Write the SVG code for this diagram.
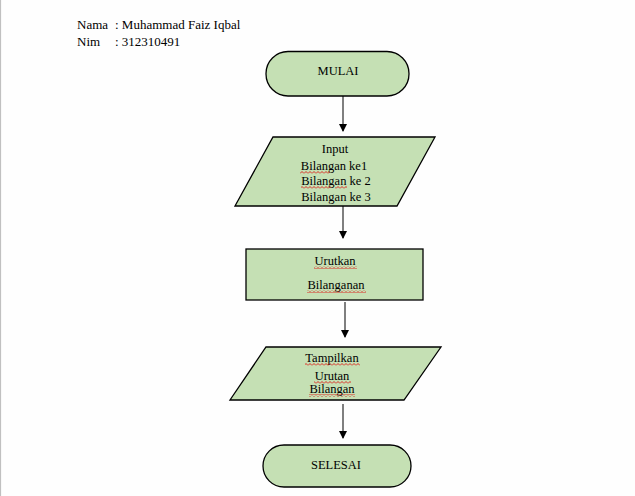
<svg xmlns="http://www.w3.org/2000/svg" width="635" height="496" viewBox="0 0 635 496">
<defs>
<style>
.shape{fill:#C5E0B4;stroke:#000;stroke-width:1.3}
.t{font-family:"Liberation Serif","Times New Roman",serif;font-size:12.5px;fill:#000}
.h{font-size:13px}
.c{text-anchor:middle}
.arr{stroke:#000;stroke-width:1;fill:none;marker-end:url(#ah)}
.sq{fill:url(#wavy)}
</style>
<marker id="ah" viewBox="0 0 8 8" refX="7" refY="4" markerWidth="8" markerHeight="8" markerUnits="userSpaceOnUse" orient="auto">
<path d="M0,0 L8,4 L0,8 Z" fill="#000"/>
</marker>
<pattern id="wavy" width="4" height="3" patternUnits="userSpaceOnUse">
<path d="M0,2.5 L2,0.5 L4,2.5" fill="none" stroke="#e00000" stroke-width="0.8"/>
</pattern>
</defs>
<rect x="0" y="0" width="635" height="496" fill="#fefefe"/>
<line x1="0.5" y1="0" x2="0.5" y2="496" stroke="#c0c0c0" stroke-width="1.2"/>
<g id="header">
<text class="t h" x="77" y="29">Nama</text>
<text class="t h" x="115" y="29">: Muhammad Faiz Iqbal</text>
<text class="t h" x="77" y="46">Nim</text>
<text class="t h" x="115" y="46">: 312310491</text>
</g>
<g id="connectors">
<line class="arr" x1="343" y1="96" x2="343" y2="131"/>
<line class="arr" x1="343" y1="206" x2="343" y2="238"/>
<line class="arr" x1="345" y1="302" x2="345" y2="337"/>
<line class="arr" x1="343" y1="404" x2="343" y2="438"/>
</g>
<g id="mulai">
<rect class="shape" x="266" y="51.5" width="143" height="44.5" rx="22" ry="22"/>
<text class="t c" x="338" y="74.5">MULAI</text>
</g>
<g id="input">
<polygon class="shape" points="273,137 435,137 397,206 235,206"/>
<text class="t c" x="335" y="153">Input</text>
<text class="t c" x="334" y="170">Bilangan ke1</text>
<text class="t c" x="336" y="185">Bilangan ke 2</text>
<text class="t c" x="336" y="201">Bilangan ke 3</text>
<rect class="sq" x="300" y="171" width="30" height="3"/>
<rect class="sq" x="301" y="186" width="30" height="3"/>
<rect class="sq" x="335" y="186" width="12" height="3"/>
</g>
<g id="urutkan">
<rect class="shape" x="246" y="249" width="177" height="51"/>
<text class="t c" x="335" y="265">Urutkan</text>
<text class="t c" x="336" y="289">Bilanganan</text>
<rect class="sq" x="314" y="266" width="43" height="3"/>
<rect class="sq" x="307" y="290" width="59" height="3"/>
</g>
<g id="tampilkan">
<polygon class="shape" points="266,347 441,347 404,400 230,400"/>
<text class="t c" x="332" y="362">Tampilkan</text>
<text class="t c" x="332" y="380">Urutan</text>
<text class="t c" x="332" y="393">Bilangan</text>
<rect class="sq" x="305" y="363" width="55" height="3"/>
<rect class="sq" x="314" y="381" width="37" height="3"/>
<rect class="sq" x="309" y="394" width="46" height="3"/>
</g>
<g id="selesai">
<rect class="shape" x="263" y="445" width="148" height="42" rx="21" ry="21"/>
<text class="t c" x="336" y="469">SELESAI</text>
</g>
</svg>
